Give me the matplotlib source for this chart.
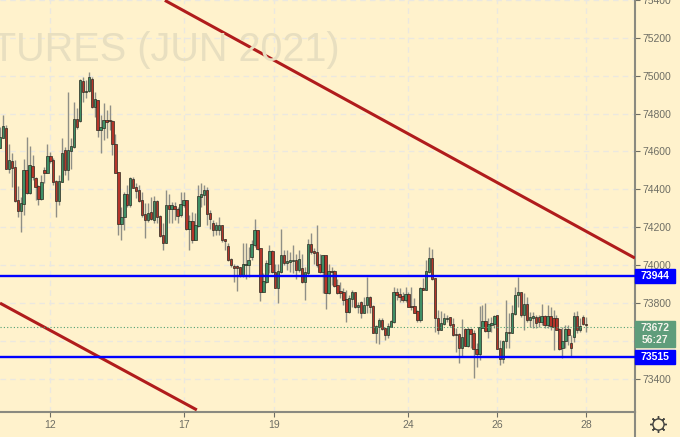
import matplotlib
matplotlib.use('Agg')
import matplotlib.pyplot as plt
from matplotlib.patches import Rectangle

# candles, one row per bar: open, close, high, low
opens = [74621,74674,74721,74510,74546,74516,74343,74290,74326,74498,74384,74523,74458,74414,74352,74498,74487,74575,74554,74440,
74343,74440,74604,74502,74607,74625,74771,74765,74968,74918,74920,74980,74836,74871,74718,74725,74765,74765,74760,74639,
74489,74220,74255,74373,74317,74454,74408,74392,74343,74268,74238,74276,74241,74334,74255,74158,74120,74313,74296,74312,
74296,74264,74320,74340,74190,74232,74136,74208,74361,74373,74392,74273,74220,74185,
74188,74211,74135,74100,74030,73994,73991,73986,73950,74003,74005,74044,74110,74181,74088,73859,73912,74008,74070,73959,
73882,73965,74052,74012,74017,74023,74026,73977,73982,73912,73959,74110,74070,74065,74005,73965,74049,73854,73968,73965,
73891,73859,73855,73820,73753,73824,73854,73783,73803,73748,73789,73829,73780,73643,73674,73709,73665,73634,73674,73701,
73854,73843,73833,73818,73845,73783,
73780,73754,73710,73877,73872,73965,74035,73930,73719,73661,73692,73719,73722,73687,73634,73634,73566,73663,73575,73663,
73640,73557,73531,73670,73705,73652,73687,73689,73735,73561,73508,73599,73647,73643,73745,73842,73854,73736,73793,73710,
73724,73722,73722,73701,73728,73687,73731,73719,73717,73661,73566,73599,73663,73587,73622,73731,73661,73724,73689]
closes = [74674,74735,74510,74554,74516,74343,74290,74326,74498,74384,74524,74466,74414,74352,74436,74487,74575,74554,74440,74343,
74440,74590,74502,74604,74625,74771,74730,74973,74918,74920,74991,74836,74874,74718,74725,74765,74760,74762,74639,74489,
74220,74252,74373,74317,74458,74408,74392,74343,74268,74238,74273,74243,74334,74255,74158,74120,74313,74296,74313,74296,
74261,74320,74343,74190,74232,74136,74208,74361,74373,74392,74273,74243,74185,74208,
74211,74135,74128,74030,74000,73987,73986,73950,74003,74005,74026,74110,74181,74088,73859,73912,74008,74070,73965,73882,
73965,74052,74012,74017,74023,74026,73977,74030,73912,73959,74110,74070,74065,74005,73965,74049,73854,73968,73965,73891,
73854,73856,73820,73753,73824,73854,73783,73789,73748,73789,73829,73780,73643,73674,73709,73665,73634,73674,73701,73854,
73843,73833,73818,73845,73783,73780,
73749,73714,73877,73872,73965,74035,73930,73724,73661,73692,73719,73721,73687,73634,73631,73566,73619,73575,73663,73640,
73557,73534,73670,73701,73652,73687,73693,73731,73561,73508,73599,73643,73643,73745,73842,73854,73736,73793,73710,73724,
73728,73698,73701,73728,73687,73731,73678,73675,73661,73561,73599,73663,73631,73566,73731,73661,73675,73689,73684]
highs = [74730,74792,74739,74642,74590,74554,74417,74361,74558,74677,74628,74581,74466,74422,74475,74519,74639,74598,74563,74449,
74475,74669,74621,74915,74669,74862,74827,74985,74994,74976,75020,74994,74915,74874,74792,74857,74818,74845,74765,74692,
74493,74308,74387,74422,74466,74466,74431,74422,74387,74326,74326,74361,74364,74343,74264,74220,74396,74378,74334,74334,
74308,74387,74387,74343,74264,74282,74273,74422,74431,74422,74414,74290,74240,74230,
74255,74211,74140,74114,74040,74008,74000,73991,74114,74114,74096,74135,74241,74184,74091,73956,74026,74105,74079,74008,
74008,74193,74079,74079,74070,74105,74061,74079,74061,73991,74140,74167,74088,74211,74061,74052,74052,74008,73991,73973,
73929,73912,73877,73868,73841,73868,73859,73806,73810,73833,73938,73836,73789,73683,73718,73718,73674,73692,73709,73885,
73877,73877,73859,73885,73859,73885,
73824,73763,73886,73930,74027,74094,74083,73930,73763,73758,73745,73736,73728,73719,73666,73640,73714,73670,73675,73670,
73657,73587,73784,73789,73798,73719,73724,73736,73736,73605,73605,73816,73745,73789,73886,73939,73860,73851,73833,73754,
73754,73736,73736,73795,73736,73789,73780,73763,73736,73666,73671,73684,73684,73631,73754,73758,73719,73736,73724]
lows = [74616,74669,74510,74484,74414,74334,74255,74176,74264,74378,74378,74449,74343,74317,74343,74431,74484,74537,74422,74255,
74317,74440,74475,74449,74510,74616,74721,74757,74862,74880,74915,74832,74783,74677,74593,74660,74669,74713,74581,74484,
74158,74132,74185,74308,74308,74405,74352,74334,74255,74141,74229,74238,74220,74220,74150,74079,74115,74220,74220,74238,
74220,74255,74308,74185,74079,74115,74132,74203,74308,74317,74211,74190,74155,74160,
74158,74123,74079,74023,73991,73912,73864,73938,73938,73929,73938,74026,74096,74079,73811,73859,73903,73956,73956,73877,
73801,73956,74000,73973,73965,73956,73929,73965,73903,73818,73947,74061,74008,73991,73956,73854,73766,73847,73894,73885,
73847,73824,73789,73701,73745,73780,73771,73745,73718,73745,73745,73745,73639,73590,73583,73657,73604,73613,73674,73695,
73815,73806,73806,73806,73780,73762,
73745,73701,73701,73868,73868,73956,73921,73648,73636,73657,73684,73701,73675,73626,73543,73481,73517,73573,73569,73561,
73406,73464,73499,73666,73648,73613,73648,73666,73555,73473,73485,73561,73561,73640,73736,73780,73724,73657,73701,73675,
73666,73666,73675,73684,73666,73666,73657,73552,73657,73552,73508,73561,73578,73520,73596,73640,73648,73684,73648]

day_labels = ['12', '17', '19', '24', '26', '28']
day_pos = [17, 62, 92.5, 138, 168, 198]
price_ticks = [73400, 73600, 73800, 74000, 74200, 74400, 74600, 74800, 75000, 75200, 75400]
# 73600 sits behind the last price tag in the reference
price_labels = ['73400', '', '73800', '74000', '74200', '74400', '74600', '74800', '75000', '75200', '75400']

level_hi = 73944
level_lo = 73515
last_price = 73672
countdown = '56:27'

upper_x = [55.7, 214.5]
upper_y = [75398, 74037]
lower_x = [0, 66.5]
lower_y = [73799, 73235]

bg = '#fff2cc'
grid_col = '#ebe8e0'
axis_col = '#8a8a80'
text_col = '#6e6e64'
wick_col = '#8f8f86'
up_col = '#3f8f66'
down_col = '#b5352a'
edge_col = '#2a2a20'
trend_col = '#b01c1c'
blue = '#0000ff'
tag_green = '#5f9d7b'

plt.rcParams['font.family'] = ['Liberation Sans', 'DejaVu Sans']

W, H = 680.0, 437.0
fig = plt.figure(figsize=(6.8, 4.37), dpi=100, facecolor=bg)
ax = fig.add_axes([0, 1 - 412 / H, 635 / W, 412 / H], facecolor=bg)
ax.set_xlim(0, 635 / 2.96)
ax.set_ylim(73224, 75398)

ax.grid(True, color=grid_col, ls=(0, (4, 3)), lw=1)
ax.set_axisbelow(True)

# watermark
fig.text(340 / W, 1 - 50 / H, 'TURES (JUN 2021)', color='#e8dfc0', fontsize=28.5,
         ha='right', va='center', zorder=0.5)
ax.patch.set_alpha(0)

# candles
for i in range(len(opens)):
    o, c = opens[i], closes[i]
    ax.vlines(i, lows[i], highs[i], color=wick_col, lw=1.0, zorder=2)
    col = up_col if c >= o else down_col
    ax.bar(i, abs(c - o) + 4, bottom=min(o, c) - 2, width=0.8, color=col,
           edgecolor=edge_col, linewidth=0.5, zorder=3)

ax.plot(upper_x, upper_y, color=trend_col, lw=2.2, zorder=4, solid_capstyle='butt')
ax.plot(lower_x, lower_y, color=trend_col, lw=2.2, zorder=4, solid_capstyle='butt')
ax.axhline(level_hi, color=blue, lw=1.7, zorder=5)
ax.axhline(level_lo, color=blue, lw=1.7, zorder=5)
ax.axhline(last_price, color='#4f9f75', lw=0.8, ls=(0, (1, 2)), zorder=5)

for s in ['top', 'left']:
    ax.spines[s].set_visible(False)
ax.spines['right'].set_color(axis_col)
ax.spines['right'].set_linewidth(1.5)
ax.spines['bottom'].set_color(axis_col)
ax.spines['bottom'].set_linewidth(1.5)

ax.yaxis.tick_right()
ax.set_yticks(price_ticks)
ax.set_yticklabels(price_labels)
ax.set_xticks(day_pos)
ax.set_xticklabels(day_labels)
ax.tick_params(axis='y', length=3.5, width=0.8, color=text_col, labelcolor=text_col,
               labelsize=7.5, pad=2)
ax.tick_params(axis='x', length=3.5, width=0.8, color=text_col, labelcolor=text_col,
               labelsize=7.5, pad=2.5)
for t in ax.get_yticklabels():
    t.set_clip_on(False)

# axis extends down through the bottom strip
fig.add_artist(plt.Line2D([635 / W, 635 / W], [0, 25 / H], color=axis_col, lw=1.5))

# price tags
tr = ax.get_yaxis_transform()
tag_w = 40 / 635
px = 2174 / 412.0


def tag(price, txt):
    ax.add_patch(Rectangle((1, price - 7 * px), tag_w, 14 * px, transform=tr, color=blue,
                           clip_on=False, zorder=6))
    ax.text(1 + tag_w / 2, price, txt, transform=tr, color='white', fontsize=7.5,
            fontweight='bold', ha='center', va='center', zorder=7, clip_on=False)


tag(level_hi, str(level_hi))
tag(level_lo, str(level_lo))
ax.add_patch(Rectangle((1, last_price - 20 * px), tag_w, 26 * px, transform=tr, color=tag_green,
                       clip_on=False, zorder=6))
ax.text(1 + tag_w / 2, last_price - 0.5 * px, str(last_price), transform=tr, color='#f4f4ea',
        fontsize=7.5, fontweight='bold', ha='center', va='center', zorder=7, clip_on=False)
ax.text(1 + tag_w / 2, last_price - 13 * px, countdown, transform=tr, color='#f4f4ea',
        fontsize=7.5, fontweight='bold', ha='center', va='center', zorder=7, clip_on=False)

# settings icon
icon = fig.add_axes([648 / W, 1 - 434 / H, 20 / W, 20 / H])
icon.axis('off')
icon.set_xlim(-1, 1)
icon.set_ylim(-1, 1)
icon.plot([0], [0], marker=(8, 2, 0), ms=12, mew=1.0, color='#444440')
icon.plot([0], [0], marker='o', ms=8, mfc=bg, mec='#444440', mew=1.0)

fig.savefig('out.png', dpi=100, facecolor=bg)
